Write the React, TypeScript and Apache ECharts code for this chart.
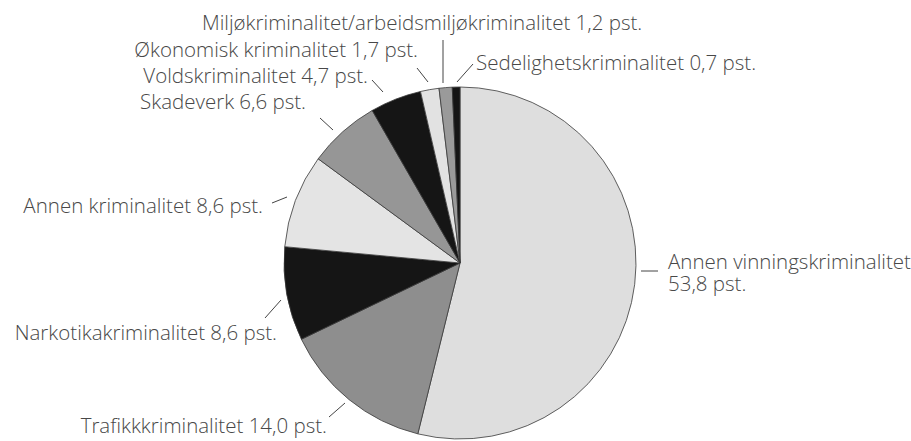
import React, { useEffect, useRef } from "react";
import * as echarts from "echarts";

// Data (percent shares), clockwise from the top
const categories = [
  "Annen vinningskriminalitet",
  "Trafikkkriminalitet",
  "Narkotikakriminalitet",
  "Annen kriminalitet",
  "Skadeverk",
  "Voldskriminalitet",
  "Økonomisk kriminalitet",
  "Miljøkriminalitet/arbeidsmiljøkriminalitet",
  "Sedelighetskriminalitet",
];
const shares = [53.8, 14.0, 8.6, 8.6, 6.6, 4.7, 1.7, 1.2, 0.7];

// Styling / layout (not data)
const sliceColors = [
  "#dedede", "#8e8e8e", "#151515", "#e4e4e4", "#969696",
  "#151515", "#e2e2e2", "#9a9a9a", "#151515",
];
const labelPlacement: { x: number; y: number; align: "left" | "right" }[] = [
  { x: 668, y: 272, align: "left" },
  { x: 327, y: 425, align: "right" },
  { x: 277, y: 332, align: "right" },
  { x: 263, y: 205, align: "right" },
  { x: 306, y: 101, align: "right" },
  { x: 368, y: 75, align: "right" },
  { x: 418, y: 49, align: "right" },
  { x: 202, y: 22, align: "left" },
  { x: 476, y: 62, align: "left" },
];
const guideLines: number[][][] = [
  [[641, 271], [658, 271]],
  [[345, 403], [329, 417]],
  [[281, 300], [265, 318]],
  [[287, 197], [272, 203]],
  [[333, 130], [320, 118]],
  [[383, 92], [372, 80]],
  [[428, 82], [417, 68]],
  [[443, 83], [443, 40]],
  [[457, 82], [473, 64]],
];

const fmt = (v: number) => v.toFixed(1).replace(".", ",");

export default function App() {
  const ref = useRef<HTMLDivElement>(null);
  useEffect(() => {
    if (!ref.current) return;
    const chart = echarts.init(ref.current, undefined, { renderer: "svg" });
    chart.setOption({
      animation: false,
      backgroundColor: "#ffffff",
      series: [
        {
          type: "pie",
          center: [460, 263],
          radius: [0, 176],
          startAngle: 90,
          clockwise: true,
          avoidLabelOverlap: false,
          data: categories.map((name, i) => ({
            name,
            value: shares[i],
            itemStyle: { color: sliceColors[i] },
          })),
          itemStyle: { borderColor: "#3a3a3a", borderWidth: 0.8 },
          label: {
            show: true,
            position: "outside",
            fontFamily: "Open Sans",
            fontWeight: 300,
            fontSize: 20.5,
            lineHeight: 22,
            color: "#484848",
            formatter: (p: any) =>
              p.dataIndex === 0
                ? `${p.name}\n${fmt(p.value)} pst.`
                : `${p.name} ${fmt(p.value)} pst.`,
          },
          labelLine: {
            show: true,
            length: 10,
            length2: 0,
            smooth: false,
            lineStyle: { color: "#444444", width: 1 },
          },
          labelLayout: (params: any) => {
            const i = params.dataIndex;
            const lp = labelPlacement[i];
            return {
              x: lp.x,
              y: lp.y,
              align: lp.align,
              verticalAlign: "middle",
              labelLinePoints: guideLines[i],
            };
          },
          emphasis: { disabled: true },
        },
      ],
    });
    return () => chart.dispose();
  }, []);
  return (
    <div
      ref={ref}
      style={{ position: "fixed", left: 0, top: 0, width: 911, height: 441 }}
    />
  );
}
